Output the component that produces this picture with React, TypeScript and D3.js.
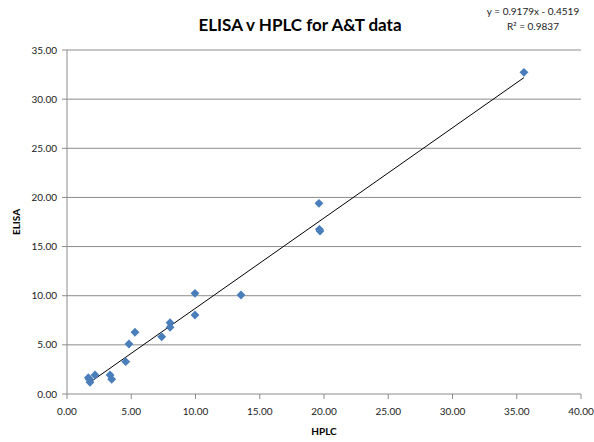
import React from "react";
import * as d3 from "d3";

const hplc = [1.66, 1.79, 1.74, 2.18, 3.35, 3.48, 4.57, 4.82, 5.29, 7.37, 8.02, 8.02, 9.96, 9.96, 13.54, 19.61, 19.64, 19.69, 35.56];
const elisa = [1.66, 1.19, 1.5, 1.93, 1.93, 1.5, 3.29, 5.09, 6.28, 5.83, 7.25, 6.79, 10.24, 8.04, 10.07, 19.4, 16.75, 16.58, 32.73];
const slope = 0.9179;
const intercept = -0.4519;
const xTicks = [0, 5, 10, 15, 20, 25, 30, 35, 40];
const yTicks = [0, 5, 10, 15, 20, 25, 30, 35];
const title = "ELISA v HPLC for A&T data";
const eqText = "y = 0.9179x - 0.4519";
const r2Text = "R² = 0.9837";

export default function App() {
  const W = 594, H = 442;
  const x = d3.scaleLinear().domain([0, 40]).range([67, 581]);
  const y = d3.scaleLinear().domain([0, 35]).range([394, 50]);
  const font = "Lato, 'Open Sans', sans-serif";
  const grid = "#8c8c8c";
  const x0 = d3.min(hplc)!, x1 = d3.max(hplc)!;
  const diamond = d3.symbol().type(d3.symbolDiamond2).size(50)();
  return (
    <svg width={W} height={H} style={{ position: "absolute", left: 0, top: 0, background: "#fff" }} fontFamily={font}>
      <rect width={W} height={H} fill="#fff" />
      {yTicks.map((t) => (
        <g key={"y" + t}>
          <line x1={x(0) - 5} x2={t === 0 ? x(40) : x(40)} y1={y(t)} y2={y(t)} stroke={grid} strokeWidth={1} />
          <text x={x(0) - 10} y={y(t)} dy="0.35em" textAnchor="end" fontSize={10} fill="#222">{t.toFixed(2)}</text>
        </g>
      ))}
      <line x1={x(0)} x2={x(0)} y1={y(0)} y2={y(35)} stroke={grid} />
      {xTicks.map((t) => (
        <g key={"x" + t}>
          <line x1={x(t)} x2={x(t)} y1={y(0)} y2={y(0) + 5} stroke={grid} />
          <text x={x(t)} y={y(0) + 17} dy="0.35em" textAnchor="middle" fontSize={10} fill="#222">{t.toFixed(2)}</text>
        </g>
      ))}
      <line x1={x(x0)} y1={y(slope * x0 + intercept)} x2={x(x1)} y2={y(slope * x1 + intercept)} stroke="#000" strokeWidth={1} />
      {hplc.map((v, i) => (
        <path key={i} d={diamond!} transform={`translate(${x(v)},${y(elisa[i])})`} fill="#4a7ebb" />
      ))}
      <text x={300} y={31} textAnchor="middle" fontSize={17} fontWeight="bold" fill="#000">{title}</text>
      <text x={533} y={15} textAnchor="middle" fontSize={10} fill="#222">{eqText}</text>
      <text x={533} y={30} textAnchor="middle" fontSize={10} fill="#222">{r2Text}</text>
      <text x={324} y={435} textAnchor="middle" fontSize={10} fontWeight="bold" fill="#000">HPLC</text>
      <text transform={`translate(20,222) rotate(-90)`} textAnchor="middle" fontSize={10} fontWeight="bold" fill="#000">ELISA</text>
    </svg>
  );
}
